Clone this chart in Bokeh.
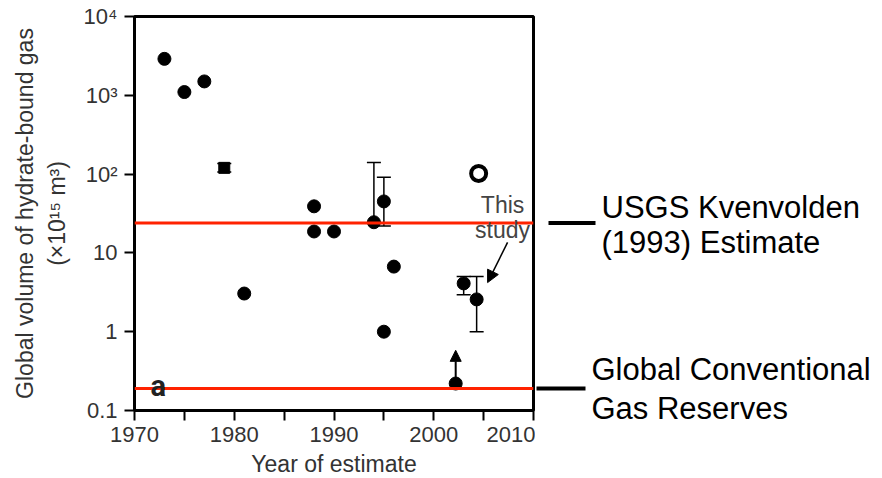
from bokeh.plotting import figure
from bokeh.layouts import row
from bokeh.models import (Span, Whisker, ColumnDataSource, Arrow, NormalHead, TeeHead,
                          Label, FixedTicker, Range1d)
from bokeh.core.properties import value
from bokeh.embed import file_html
from bokeh.resources import INLINE

# ---- data ----
years = [1973, 1975, 1977, 1981, 1988, 1988, 1990, 1994, 1995, 1996, 1995, 2002.2, 2003, 2004.3]
volumes = [2900, 1100, 1500, 3.05, 39, 18.7, 18.7, 24.5, 45, 6.7, 1.0, 0.22, 4.1, 2.57]

square_year = [1979]
square_value = [120]

err_years = [1979, 1994, 1995, 2003, 2004.3]
err_lower = [106, 24.5, 22, 2.95, 1.0]
err_upper = [136, 140, 91, 5.0, 5.0]

study_year = [2004.5]
study_value = [102]

min_bound_year = 2002.2
min_bound_from = 0.22
min_bound_to = 0.58

usgs_estimate = 24
conventional_reserves = 0.19

side_texts = ["USGS Kvenvolden", "(1993) Estimate", "Global Conventional", "Gas Reserves"]
side_text_x = [66, 66, 56, 56]
side_text_y = [37.7, 13.6, 0.331, 0.106]

x_ticks = [1970, 1975, 1980, 1985, 1990, 1995, 2000, 2005, 2010]
x_labels = {1970: "1970", 1975: "", 1980: "1980", 1985: "", 1990: "1990",
            1995: "", 2000: "2000", 2005: "", 2010: "2010"}
y_ticks = [0.1, 1, 10, 100, 1000, 10000]
y_labels = {0.1: "0.1", 1: "1", 10: "10", 100: "10²", 1000: "10³", 10000: "10⁴"}

FONT = "Liberation Sans"
RED = "#ff2200"

FRAME_H = 394
TOP = 16
BOTTOM = 60

p = figure(frame_width=399, frame_height=FRAME_H, y_axis_type="log",
           x_range=(1970, 2010), y_range=(0.1, 10000),
           output_backend="svg", toolbar_location=None,
           min_border_left=134, min_border_right=2, min_border_top=TOP, min_border_bottom=BOTTOM,
           background_fill_color="white", border_fill_color="white")

p.grid.visible = False
p.outline_line_color = "black"
p.outline_line_width = 3

for ax in (p.xaxis[0], p.yaxis[0]):
    ax.axis_line_width = 3
    ax.axis_line_color = "black"
    ax.major_tick_line_width = 2
    ax.major_tick_out = 10
    ax.major_tick_in = 0
    ax.minor_tick_line_color = None
    ax.major_label_text_font = FONT
    ax.major_label_text_font_size = "22px"
    ax.major_label_text_color = "#333333"
    ax.axis_label_text_font = FONT
    ax.axis_label_text_font_size = "23px"
    ax.axis_label_text_font_style = "normal"
    ax.axis_label_text_color = "#333333"

p.xaxis.ticker = FixedTicker(ticks=x_ticks)
p.xaxis.major_label_overrides = x_labels
p.xaxis.major_label_standoff = 6
p.xaxis.axis_label = "Year of estimate"
p.xaxis.axis_label_standoff = 6

p.yaxis.ticker = FixedTicker(ticks=y_ticks)
p.yaxis.major_label_overrides = y_labels
p.yaxis.major_label_standoff = 7
p.yaxis.axis_label = "Global volume of hydrate-bound gas\n(×10¹⁵ m³)"
p.yaxis.axis_label_standoff = 11

# error bars
esrc = ColumnDataSource(dict(x=err_years, lo=err_lower, hi=err_upper))
p.add_layout(Whisker(source=esrc, base="x", lower="lo", upper="hi", dimension="height",
                     line_width=1.5, line_color="black",
                     lower_head=TeeHead(size=14, line_width=1.5),
                     upper_head=TeeHead(size=14, line_width=1.5)))

p.scatter(years, volumes, size=13, color="black")
p.scatter(square_year, square_value, marker="square", size=11, color="black")
p.scatter(study_year, study_value, size=15, fill_color="white", line_color="black", line_width=4)

# lower-bound arrow
p.add_layout(Arrow(x_start=min_bound_year, y_start=min_bound_from, x_end=min_bound_year,
                   y_end=min_bound_to, line_width=2,
                   end=NormalHead(size=11, fill_color="black", line_color="black")))

# reference lines
p.add_layout(Span(location=usgs_estimate, dimension="width", line_color=RED, line_width=3))
p.add_layout(Span(location=conventional_reserves, dimension="width", line_color=RED, line_width=3))

# "This study" annotation
p.add_layout(Label(x=2006.9, y=40.5, text="This", text_align="center", text_baseline="middle",
                   text_font=FONT, text_font_size="23px", text_color="#444444"))
p.add_layout(Label(x=2006.9, y=19.8, text="study", text_align="center", text_baseline="middle",
                   text_font=FONT, text_font_size="23px", text_color="#444444"))
p.add_layout(Arrow(x_start=2007.4, y_start=13.6, x_end=2005.4, y_end=4.2, line_width=1.5,
                   end=NormalHead(size=12, fill_color="black", line_color="black")))

# panel letter
p.add_layout(Label(x=1971.6, y=0.207, text="a", text_baseline="middle",
                   text_font="Roboto", text_font_size="29px", text_font_style="bold",
                   text_color="#222222"))

# ---- right-hand side panel with the reference-line labels ----
W2 = 347
H2 = FRAME_H + BOTTOM
decade_px = FRAME_H / 5.0
y2_bottom = 10 ** (4 - H2 / decade_px)

p2 = figure(frame_width=W2, frame_height=H2, y_axis_type="log",
            x_range=Range1d(0, W2), y_range=Range1d(y2_bottom, 10000),
            x_axis_location=None, y_axis_location=None,
            output_backend="svg", toolbar_location=None,
            min_border_left=0, min_border_right=0, min_border_top=TOP, min_border_bottom=0,
            background_fill_color="white", border_fill_color="white")
p2.grid.visible = False
p2.outline_line_color = None

p2.segment(x0=[13, 1], y0=[usgs_estimate, conventional_reserves],
           x1=[60, 50], y1=[usgs_estimate, conventional_reserves],
           line_color="black", line_width=4)
p2.text(x=side_text_x, y=side_text_y, text=side_texts, text_baseline="middle",
        text_font=value(FONT), text_font_size="31px", text_color="black")

layout = row(p, p2, spacing=0)
open("out.html", "w").write(file_html(layout, INLINE))
